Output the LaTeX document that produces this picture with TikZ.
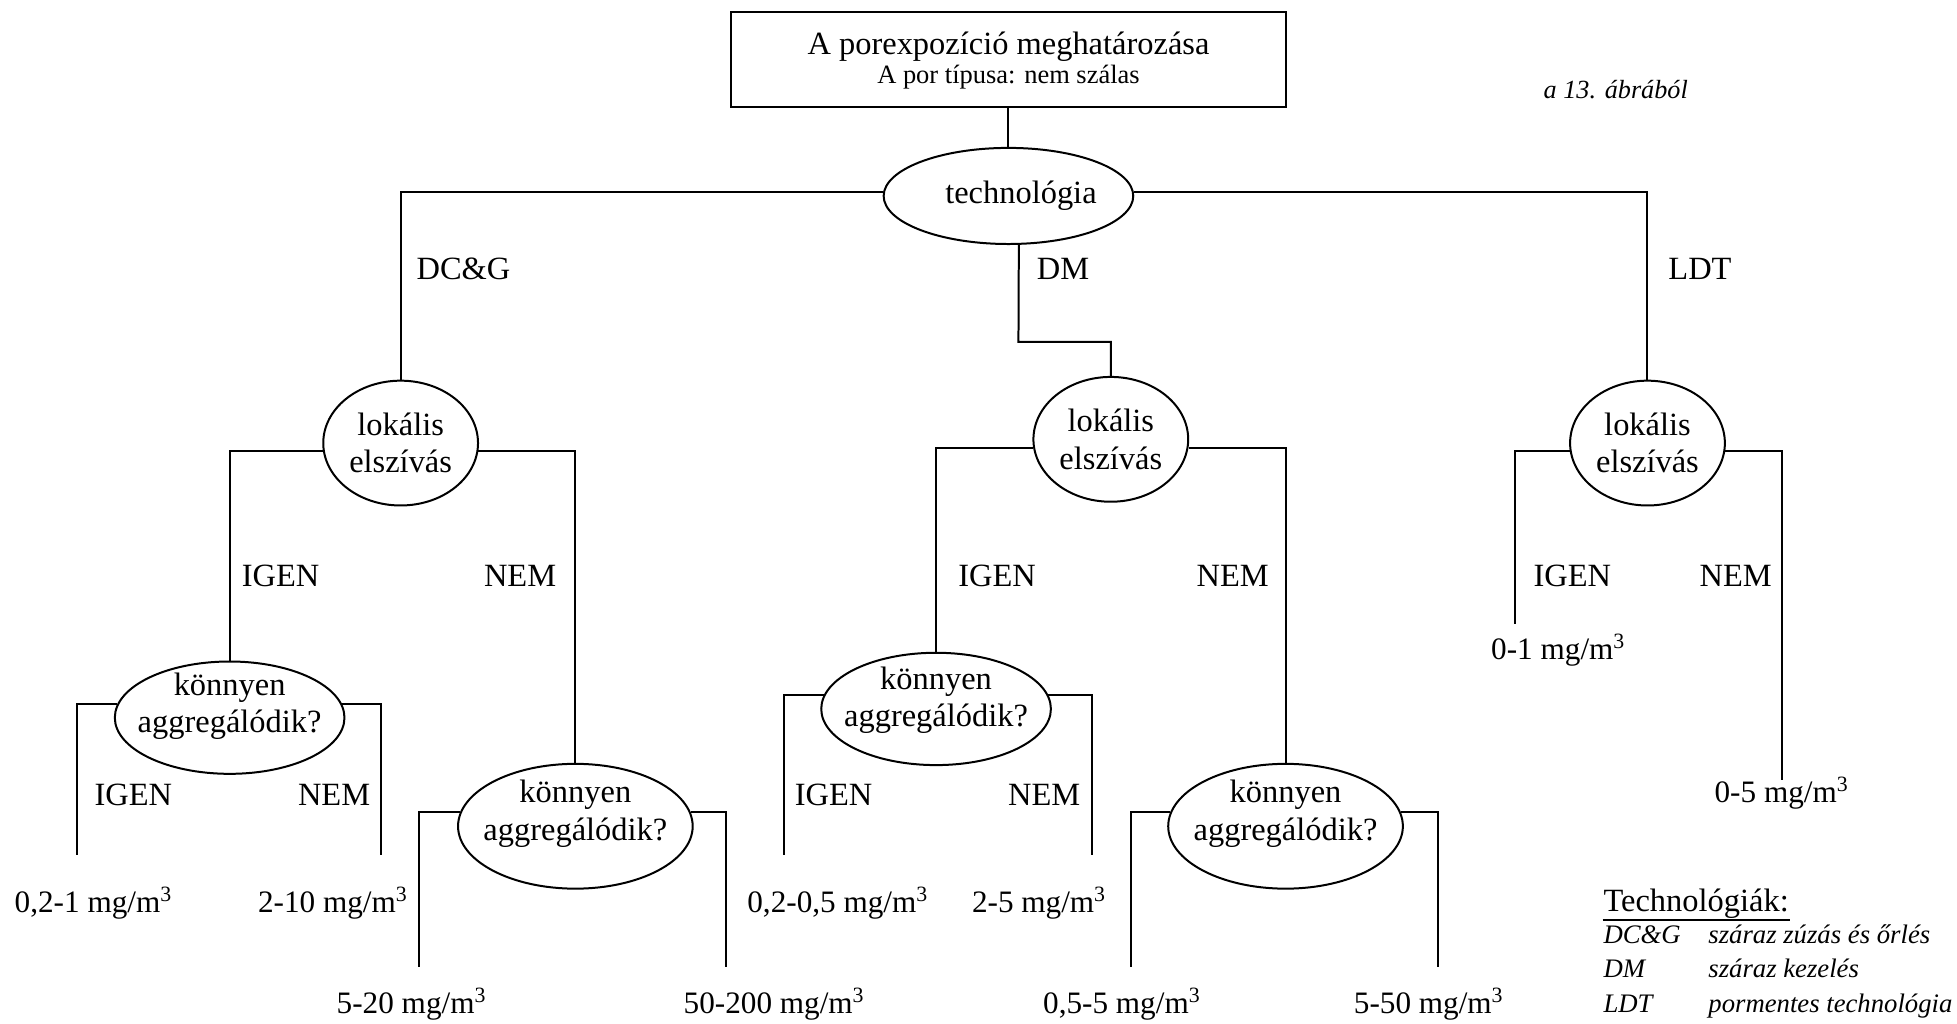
\documentclass[tikz,border=0pt]{standalone}
\usepackage{fontspec}
\setmainfont{Liberation Serif}
\usetikzlibrary{shapes.geometric}
\begin{document}
\begin{tikzpicture}[x=0.5pt,y=-0.5pt,line width=0.8pt,
  ell/.style={draw,ellipse,inner sep=0pt},
  lokell/.style={ell,minimum width=62pt,minimum height=50pt},
  kell/.style={ell,minimum width=92pt,minimum height=45pt},
  kellb/.style={ell,minimum width=94pt,minimum height=50pt},
  intext/.style={align=center,inner sep=0pt,font=\fontsize{13}{15}\selectfont},
  lbl/.style={anchor=base west,inner sep=0pt,font=\fontsize{13}{15}\selectfont},
  val/.style={anchor=base west,inner sep=0pt,font=\fontsize{12.5}{15}\selectfont},
  legi/.style={anchor=base west,inner sep=0pt,font=\itshape\fontsize{10.7}{12}\selectfont}]
\useasboundingbox (0,0) rectangle (1568,820);

% top box
\node[draw,minimum width=222.5pt,minimum height=38pt,inner sep=0pt] (box) at (808,48) {};
\node[anchor=base,inner sep=0pt,font=\fontsize{13}{15}\selectfont] (bt1) at (808,44) {A porexpozíció meghatározása};
\node[anchor=base,inner sep=0pt,font=\fontsize{10.6}{12.5}\selectfont] (bt2) at (808,67) {A por típusa: nem szálas};
\node[anchor=base west,inner sep=0pt,font=\itshape\fontsize{10.5}{12}\selectfont] (ref) at (1236,79) {a 13. ábrából};

% technologia
\node[ell,minimum width=100pt,minimum height=38.5pt] (tech) at (808,157) {};
\node[intext] (techt) at (818,157) {technológia};

% lokalis
\node[lokell] (lok1) at (321,355) {};
\node[intext] (lok1t) at (321,355) {lokális\\elszívás};
\node[lokell] (lok2) at (890,352) {};
\node[intext] (lok2t) at (890,352) {lokális\\elszívás};
\node[lokell] (lok3) at (1320,355) {};
\node[intext] (lok3t) at (1320,355) {lokális\\elszívás};

% konnyen
\node[kell] (k1) at (184,575) {};
\node[intext] (k1t) at (184,566) {könnyen\\aggregálódik?};
\node[kellb] (k2) at (461,662) {};
\node[intext] (k2t) at (461,652) {könnyen\\aggregálódik?};
\node[kell] (k3) at (750,568) {};
\node[intext] (k3t) at (750,561) {könnyen\\aggregálódik?};
\node[kellb] (k4) at (1030,662) {};
\node[intext] (k4t) at (1030,652) {könnyen\\aggregálódik?};

% connectors
\draw (box.south) -- (tech.north);
\draw (tech.178) -| (lok1.north);
\draw (tech.2) -| (lok3.north);
\coordinate (dmk) at (816,274);
\draw (tech.-78) -- (dmk) -| (lok2.north);

\draw (lok1.186.5) -| (k1.north);
\draw (lok1.-6.5) -| (k2.north);
\draw (lok2.186.5) -| (k3.north);
\draw (lok2.-6.5) -| (k4.north);

\coordinate (e1) at (62,685);
\coordinate (e2) at (305,685);
\coordinate (e3) at (336,775);
\coordinate (e4) at (582,775);
\coordinate (e5) at (628,685);
\coordinate (e6) at (875,685);
\coordinate (e7) at (906,775);
\coordinate (e8) at (1152,775);
\coordinate (e9) at (1214,500);
\coordinate (e10) at (1428,625);
\draw (k1.173) -| (e1);
\draw (k1.7) -| (e2);
\draw (k2.173) -| (e3);
\draw (k2.7) -| (e4);
\draw (k3.173) -| (e5);
\draw (k3.7) -| (e6);
\draw (k4.173) -| (e7);
\draw (k4.7) -| (e8);
\draw (lok3.186.5) -| (e9);
\draw (lok3.-6.5) -| (e10);

% branch labels
\node[lbl] (ldcg) at (333,224) {DC\&G};
\node[lbl] (ldm) at (830,224) {DM};
\node[lbl] (lldt) at (1336,224) {LDT};
\node[lbl] (i1) at (193,470) {IGEN};
\node[lbl] (n1) at (387,470) {NEM};
\node[lbl] (i2) at (767,470) {IGEN};
\node[lbl] (n2) at (958,470) {NEM};
\node[lbl] (i3) at (1228,470) {IGEN};
\node[lbl] (n3) at (1361,470) {NEM};
\node[lbl] (i4) at (75,645) {IGEN};
\node[lbl] (n4) at (238,645) {NEM};
\node[lbl] (i5) at (636,645) {IGEN};
\node[lbl] (n5) at (807,645) {NEM};

% values
\node[val] (v1) at (11,731) {0,2-1 mg/m\textsuperscript{3}};
\node[val] (v2) at (206,731) {2-10 mg/m\textsuperscript{3}};
\node[val] (v3) at (269,812) {5-20 mg/m\textsuperscript{3}};
\node[val] (v4) at (547,812) {50-200 mg/m\textsuperscript{3}};
\node[val] (v5) at (598,731) {0,2-0,5 mg/m\textsuperscript{3}};
\node[val] (v6) at (778,731) {2-5 mg/m\textsuperscript{3}};
\node[val] (v7) at (835,812) {0,5-5 mg/m\textsuperscript{3}};
\node[val] (v8) at (1084,812) {5-50 mg/m\textsuperscript{3}};
\node[val] (v9) at (1194,528) {0-1 mg/m\textsuperscript{3}};
\node[val] (v10) at (1373,643) {0-5 mg/m\textsuperscript{3}};

% legend
\node[anchor=base west,inner sep=0pt,font=\fontsize{13}{15}\selectfont] (leg) at (1284,730) {Technológiák:};
\draw[line width=0.7pt] ([yshift=-3.5pt]leg.base west) -- ([yshift=-3.5pt]leg.base east);
\node[legi] (la1) at (1284,756) {DC\&G};
\node[legi] (lb1) at (1368,756) {száraz zúzás és őrlés};
\node[legi] (la2) at (1284,783) {DM};
\node[legi] (lb2) at (1368,783) {száraz kezelés};
\node[legi] (la3) at (1284,811) {LDT};
\node[legi] (lb3) at (1368,811) {pormentes technológia};
\end{tikzpicture}
\end{document}
